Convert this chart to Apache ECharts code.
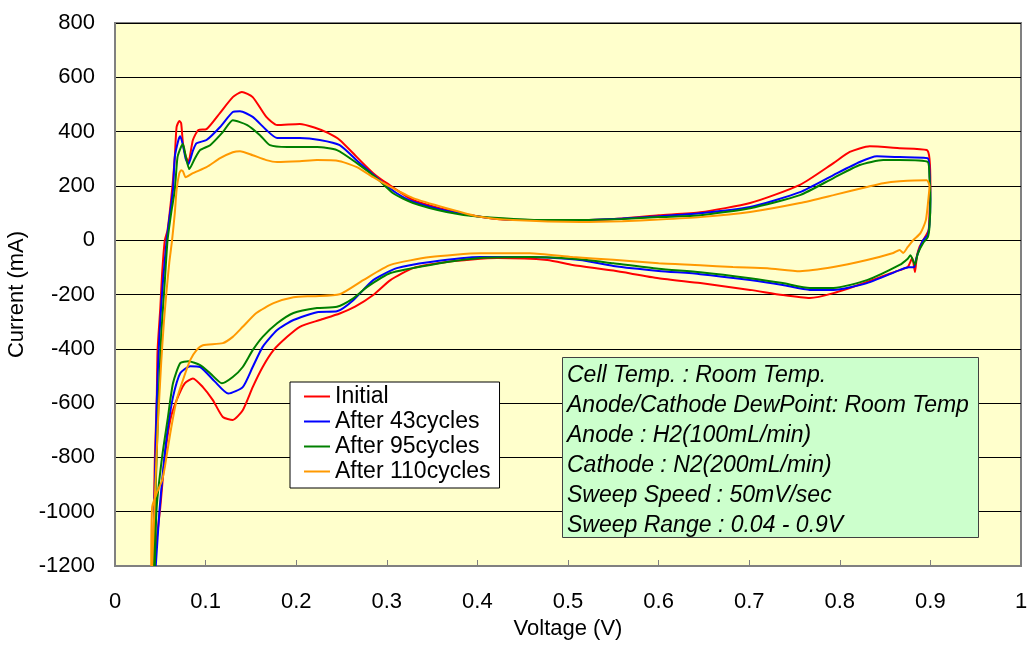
<!DOCTYPE html>
<html>
<head>
<meta charset="utf-8">
<script src="https://cdn.jsdelivr.net/npm/echarts@6/dist/echarts.min.js"></script>
<style>
html,body{margin:0;padding:0;background:#fff;}
#chart{width:1028px;height:646px;}
</style>
</head>
<body>
<div id="chart"></div>
<script>
// ---- Data (Voltage V, Current mA), closed CV loops ----
const seriesNames = ['Initial', 'After 43cycles', 'After 95cycles', 'After 110cycles'];

const initial = [
  [0.042,-1200],[0.043,-1000],[0.044,-800],[0.046,-600],[0.047,-405],[0.050,-250],[0.052,-123],[0.055,0],
  [0.058,37],[0.063,185],[0.066,306],[0.068,417],[0.071,439],[0.073,431],[0.075,357],[0.078,310],[0.081,288],
  [0.086,369],[0.092,406],[0.101,409],[0.116,469],[0.130,527],[0.140,546],[0.152,527],[0.167,454],[0.179,424],
  [0.204,428],[0.220,415],[0.235,395],[0.248,369],[0.267,306],[0.285,247],[0.300,210],[0.329,148],[0.366,111],
  [0.403,86],[0.439,74],[0.513,74],[0.560,80],[0.600,92],[0.646,103],[0.701,137],[0.756,204],[0.793,284],
  [0.811,325],[0.833,346],[0.866,339],[0.896,332],[0.899,300],[0.900,200],[0.899,100],[0.898,37],
  [0.892,0],[0.888,-25],[0.885,-60],[0.883,-117],[0.880,-66],[0.875,-99],[0.866,-110],[0.830,-154],[0.793,-195],
  [0.767,-213],[0.737,-202],[0.701,-183],[0.646,-158],[0.600,-140],[0.550,-112],[0.505,-91],[0.477,-73],
  [0.422,-66],[0.366,-80],[0.329,-103],[0.304,-147],[0.285,-202],[0.265,-245],[0.248,-270],[0.226,-294],
  [0.204,-319],[0.190,-356],[0.175,-405],[0.163,-467],[0.152,-541],[0.141,-626],[0.130,-662],[0.119,-651],
  [0.108,-589],[0.097,-541],[0.086,-509],[0.077,-527],[0.068,-589],[0.061,-662],[0.055,-798],[0.050,-983],
  [0.046,-1105],[0.044,-1200]
];

const after43 = [
  [0.042,-1200],[0.044,-900],[0.046,-600],[0.049,-350],[0.053,-150],[0.057,0],[0.060,80],[0.064,185],
  [0.066,306],[0.070,369],[0.072,383],[0.075,350],[0.078,300],[0.081,280],[0.086,330],[0.090,357],[0.101,369],
  [0.116,417],[0.130,472],[0.138,475],[0.152,454],[0.167,406],[0.179,376],[0.204,376],[0.226,369],[0.248,350],
  [0.270,284],[0.292,222],[0.311,173],[0.329,142],[0.366,108],[0.403,86],[0.439,75],[0.513,74],[0.560,80],
  [0.600,88],[0.646,99],[0.701,122],[0.756,177],[0.793,240],[0.822,288],[0.841,309],[0.866,306],[0.897,302],
  [0.899,250],[0.900,150],[0.899,60],[0.897,20],
  [0.892,0],[0.887,-40],[0.884,-73],[0.882,-99],[0.876,-100],[0.866,-110],[0.830,-158],[0.793,-183],
  [0.767,-183],[0.737,-165],[0.701,-147],[0.646,-125],[0.600,-113],[0.550,-95],[0.513,-73],[0.458,-62],
  [0.403,-62],[0.348,-80],[0.311,-103],[0.285,-147],[0.263,-221],[0.245,-262],[0.223,-265],[0.197,-294],
  [0.179,-331],[0.163,-393],[0.152,-467],[0.141,-541],[0.125,-565],[0.110,-520],[0.094,-467],[0.083,-464],
  [0.072,-490],[0.064,-578],[0.058,-700],[0.053,-850],[0.049,-1000],[0.045,-1200]
];

const after95 = [
  [0.043,-1200],[0.045,-900],[0.048,-600],[0.051,-350],[0.055,-150],[0.058,0],[0.062,100],[0.066,185],
  [0.069,306],[0.073,345],[0.075,354],[0.078,310],[0.082,262],[0.088,300],[0.094,332],[0.105,350],[0.119,398],
  [0.130,442],[0.146,424],[0.160,387],[0.171,350],[0.190,343],[0.223,343],[0.245,332],[0.267,284],[0.289,228],
  [0.307,173],[0.329,137],[0.366,104],[0.403,86],[0.477,74],[0.513,74],[0.560,78],[0.600,85],[0.646,92],
  [0.701,118],[0.756,166],[0.793,229],[0.822,277],[0.848,295],[0.866,295],[0.897,288],[0.899,230],[0.900,150],
  [0.899,50],[0.897,10],
  [0.892,-10],[0.886,-50],[0.883,-90],[0.878,-55],[0.875,-68],[0.866,-91],[0.830,-147],[0.793,-176],
  [0.767,-176],[0.737,-158],[0.701,-140],[0.646,-118],[0.600,-105],[0.550,-85],[0.513,-70],[0.458,-62],
  [0.403,-66],[0.348,-91],[0.304,-121],[0.278,-173],[0.263,-214],[0.245,-245],[0.223,-250],[0.197,-268],
  [0.179,-306],[0.163,-356],[0.152,-405],[0.141,-467],[0.130,-504],[0.118,-527],[0.105,-490],[0.094,-460],
  [0.081,-446],[0.072,-453],[0.064,-527],[0.058,-662],[0.052,-798],[0.046,-983],[0.044,-1200]
];

const after110 = [
  [0.041,-1200],[0.044,-950],[0.047,-700],[0.051,-450],[0.054,-300],[0.057,-183],[0.060,-80],[0.063,0],
  [0.066,100],[0.068,185],[0.071,247],[0.073,258],[0.075,254],[0.078,232],[0.086,247],[0.101,269],[0.116,302],
  [0.130,324],[0.138,328],[0.152,313],[0.167,295],[0.179,288],[0.204,291],[0.223,295],[0.248,291],[0.267,269],
  [0.285,232],[0.304,196],[0.329,155],[0.366,118],[0.403,86],[0.439,74],[0.513,67],[0.560,70],[0.600,76],
  [0.646,85],[0.701,104],[0.756,137],[0.793,166],[0.830,196],[0.848,210],[0.866,217],[0.896,221],[0.899,200],
  [0.898,159],[0.895,74],[0.889,26],
  [0.881,0],[0.875,-25],[0.870,-47],[0.866,-36],[0.859,-47],[0.830,-73],[0.793,-99],[0.756,-114],[0.720,-103],
  [0.682,-99],[0.646,-92],[0.600,-85],[0.550,-72],[0.505,-62],[0.458,-48],[0.403,-48],[0.348,-62],[0.304,-91],
  [0.274,-147],[0.248,-199],[0.219,-206],[0.197,-210],[0.175,-232],[0.156,-268],[0.141,-319],[0.130,-356],
  [0.119,-379],[0.097,-387],[0.090,-405],[0.083,-442],[0.075,-515],[0.068,-589],[0.061,-711],[0.055,-836],
  [0.052,-884],[0.046,-932],[0.041,-983],[0.040,-1200]
];

const seriesData = [initial, after43, after95, after110];
const seriesColors = ['#FF0000', '#0000FF', '#008000', '#FF9900'];

const notes = [
  'Cell Temp. : Room Temp.',
  'Anode/Cathode DewPoint: Room Temp',
  'Anode : H2(100mL/min)',
  'Cathode : N2(200mL/min)',
  'Sweep Speed : 50mV/sec',
  'Sweep Range : 0.04 - 0.9V'
];

const FONT = '"Liberation Sans", Arial, sans-serif';

const chart = echarts.init(document.getElementById('chart'), null, {renderer: 'canvas'});

const noteTexts = notes.map((t, i) => ({
  type: 'text',
  left: 567,
  top: 364 + i * 30,
  z: 101,
  style: {
    text: t,
    fill: '#000',
    font: 'italic 23px ' + FONT
  }
}));

const option = {
  backgroundColor: '#ffffff',
  animation: false,
  grid: {
    left: 115, right: 7, top: 23, bottom: 80,
    outerBoundsMode: 'none',
    containLabel: false,
    show: true,
    backgroundColor: '#FFFFCC',
    borderColor: '#808080',
    borderWidth: 2
  },
  xAxis: {
    type: 'value',
    min: 0, max: 1, interval: 0.1,
    name: 'Voltage (V)',
    nameLocation: 'middle',
    nameGap: 51,
    nameTextStyle: {fontFamily: FONT, fontSize: 22, color: '#000'},
    axisLine: {show: true, onZero: false, lineStyle: {color: '#808080', width: 2}},
    axisTick: {show: true, inside: true, length: 6, lineStyle: {color: '#808080', width: 1}},
    axisLabel: {
      fontFamily: FONT, fontSize: 22, color: '#000', margin: 25,
      showMinLabel: true, showMaxLabel: true, hideOverlap: false,
      formatter: v => String(+v.toFixed(1))
    },
    splitLine: {show: false}
  },
  yAxis: {
    type: 'value',
    min: -1200, max: 800, interval: 200,
    name: 'Current (mA)',
    nameLocation: 'middle',
    nameGap: 82,
    nameRotate: 90,
    nameTextStyle: {fontFamily: FONT, fontSize: 22, color: '#000'},
    axisLine: {show: true, onZero: false, lineStyle: {color: '#808080', width: 2}},
    axisTick: {show: false},
    axisLabel: {
      fontFamily: FONT, fontSize: 22, color: '#000', margin: 20,
      showMinLabel: true, showMaxLabel: true, hideOverlap: false,
      formatter: v => String(Math.round(v))
    },
    splitLine: {show: true, lineStyle: {color: '#000', width: 1}}
  },
  legend: {
    show: true,
    orient: 'vertical',
    left: 290,
    top: 382,
    data: seriesNames.map(n => ({name: n, icon: 'rect'})),
    backgroundColor: '#ffffff',
    borderColor: '#000',
    borderWidth: 1,
    borderRadius: 0,
    padding: [3, 9, 5, 14],
    itemGap: 2,
    itemWidth: 26,
    itemHeight: 2,
    textStyle: {fontFamily: FONT, fontSize: 23, color: '#000', lineHeight: 23},
    z: 100
  },
  graphic: [
    {
      type: 'rect',
      shape: {x: 562.5, y: 357.5, width: 416, height: 180},
      style: {fill: '#CCFFCC', stroke: '#404040', lineWidth: 1},
      z: 100
    },
    ...noteTexts
  ],
  series: seriesNames.map((n, k) => ({
    name: n,
    type: 'line',
    data: seriesData[k],
    symbol: 'none',
    smooth: 0.2,
    clip: true,
    color: seriesColors[k],
    lineStyle: {color: seriesColors[k], width: 2},
    z: 2 + k
  }))
};

chart.setOption(option);
</script>
</body>
</html>
